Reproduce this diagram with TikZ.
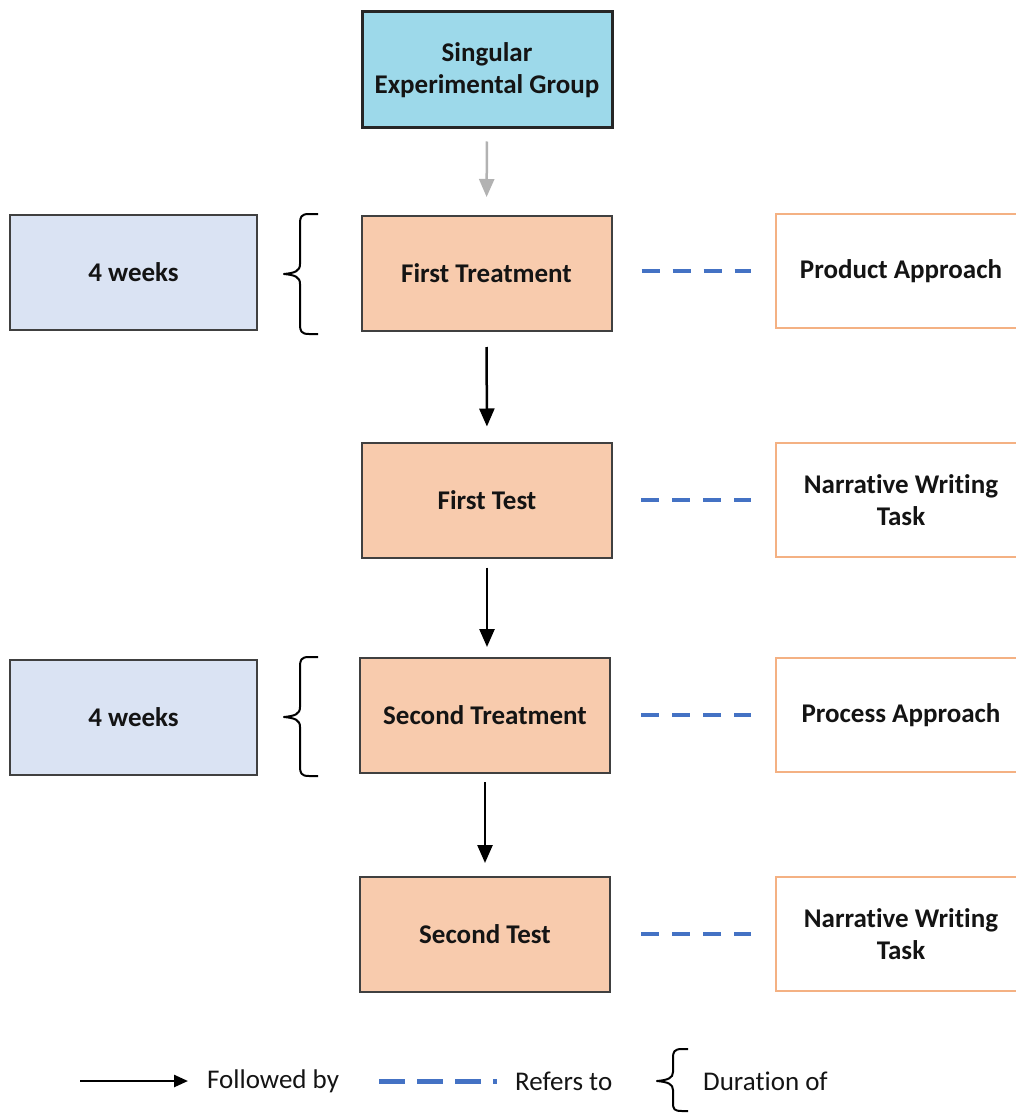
\documentclass[tikz,border=0pt]{standalone}
\usepackage{fontspec}
\setmainfont{Carlito}[Ligatures=NoCommon]
\usetikzlibrary{arrows.meta}
\definecolor{cyanfill}{HTML}{9DD9EA}
\definecolor{peach}{HTML}{F8CBAD}
\definecolor{lblue}{HTML}{DAE3F3}
\definecolor{orangeb}{HTML}{F4B183}
\definecolor{dashblue}{HTML}{4472C4}
\definecolor{txt}{HTML}{141414}
\tikzset{
  box/.style={draw=black!75, line width=2pt, minimum width=250pt, minimum height=115pt,
    inner sep=0pt, align=center, text=txt, font=\fontsize{27}{32}\selectfont\bfseries},
  topbox/.style={box, fill=cyanfill, draw=black!85, line width=3pt},
  stepbox/.style={box, fill=peach},
  weekbox/.style={box, fill=lblue, minimum width=247pt},
  refbox/.style={box, fill=white, draw=orangeb, line width=2.5pt},
  follow/.style={line width=2.5pt, -{Triangle[length=18pt,width=15pt]}},
  grayarrow/.style={follow, draw=black!30, fill=black!30},
  refers/.style={draw=dashblue, line width=4pt, dash pattern=on 18pt off 13pt},
  bracestyle/.style={draw=black, line width=2pt, line join=round},
  legtext/.style={anchor=west, inner sep=0pt, text=txt, font=\fontsize{27}{32}\selectfont}
}
\begin{document}
\begin{tikzpicture}[x=1pt,y=-1pt]
\useasboundingbox (0,0) rectangle (1016,1113);
\clip (0,0) rectangle (1016,1113);
% main column
\node[topbox] (grp) at (487,70) [minimum height=116pt] {Singular\\Experimental Group};
\node[stepbox] (t1) at (486.5,273.5) {First Treatment};
\node[stepbox] (x1) at (487,500) {First Test};
\node[stepbox] (t2) at (485,715.5) {Second Treatment};
\node[stepbox] (x2) at (485,934.5) {Second Test};
% left durations
\node[weekbox] (w1) at (133.5,272.5) {4 weeks};
\node[weekbox] (w2) at (133.5,717.5) {4 weeks};
% right references
\node[refbox] (r1) at (901,271) [minimum height=114pt] {Product Approach};
\node[refbox] (r2) at (901,500) [minimum height=114pt] {Narrative Writing\\Task};
\node[refbox] (r3) at (901,715) [minimum height=114pt] {Process Approach};
\node[refbox] (r4) at (901,934) [minimum height=114pt] {Narrative Writing\\Task};
% followed by
\draw[grayarrow, shorten <=12pt, shorten >=18pt] (grp.south) -- (t1.north);
\draw[follow, shorten <=15pt, shorten >=15pt] (t1.south) -- (x1.north);
\draw[follow, shorten <=9pt, shorten >=10pt] (x1.south) -- (x1.south |- t2.north);
\draw[follow, shorten <=8pt, shorten >=13pt] (t2.south) -- (x2.north);
% refers to
\draw[refers, shorten <=29pt, shorten >=24pt] (t1.east |- r1.west) -- (r1.west);
\draw[refers, shorten <=28pt, shorten >=24pt] (x1.east) -- (r2.west);
\draw[refers, shorten <=30pt, shorten >=24pt] (t2.east |- r3.west) -- (r3.west);
\draw[refers, shorten <=30pt, shorten >=24pt] (x2.east |- r4.west) -- (r4.west);
% braces
\draw[bracestyle] (318,214) -- (309,214) .. controls (301,214) and (300,217) .. (300,224)
  -- (300,264) .. controls (300,271) and (295,273) .. (284,274)
  .. controls (295,275) and (300,277) .. (300,284) -- (300,324)
  .. controls (300,331) and (301,334) .. (309,334) -- (318,334);
\draw[bracestyle] (318,657) -- (309,657) .. controls (301,657) and (300,660) .. (300,667)
  -- (300,707) .. controls (300,714) and (295,716) .. (284,717)
  .. controls (295,718) and (300,720) .. (300,727) -- (300,766)
  .. controls (300,773) and (301,776) .. (309,776) -- (318,776);
% legend
\coordinate (la) at (80,1081);
\coordinate (lb) at (188,1081);
\draw[follow, -{Triangle[length=14pt,width=12pt]}] (la) -- (lb);
\node[legtext] (lf) at (207,1081) {Followed by};
\coordinate (lc) at (379,1081);
\coordinate (ld) at (497,1081);
\draw[draw=dashblue, line width=5pt, dash pattern=on 26pt off 12pt] (lc) -- (ld);
\node[legtext] (lr) at (515,1081) {Refers to};
\draw[bracestyle] (688,1049) -- (682,1049) .. controls (674,1049) and (673,1052) .. (673,1058)
  -- (673,1072) .. controls (673,1078) and (668,1080) .. (657,1081)
  .. controls (668,1082) and (673,1084) .. (673,1090) -- (673,1103)
  .. controls (673,1109) and (674,1111) .. (682,1111) -- (688,1111);
\node[legtext] (ldur) at (703,1081) {Duration of};
\end{tikzpicture}
\end{document}
